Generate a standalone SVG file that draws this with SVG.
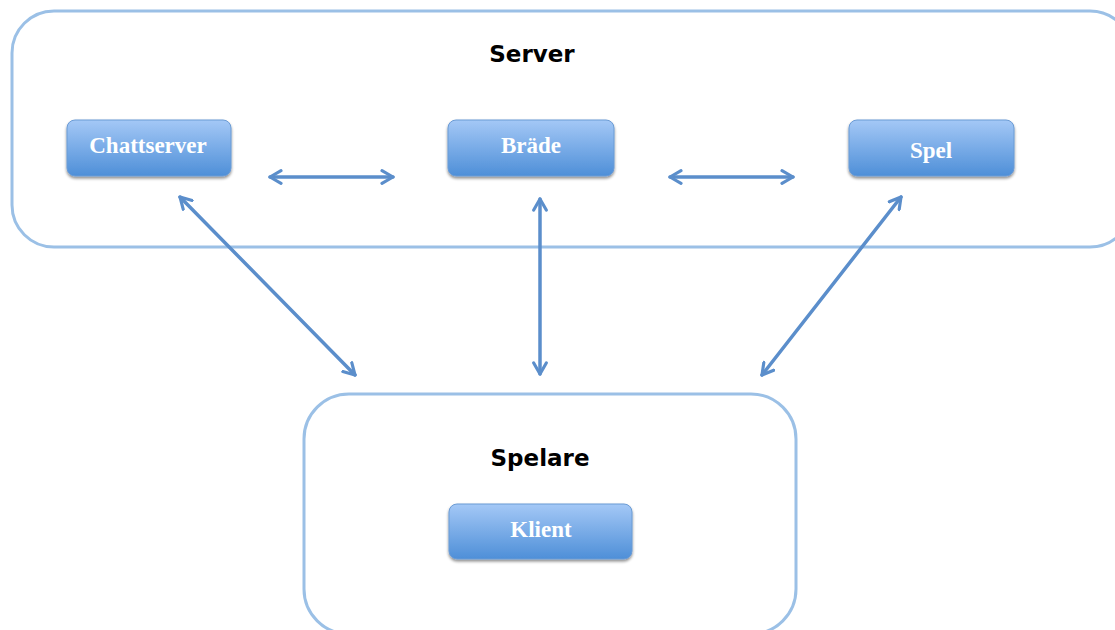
<svg xmlns="http://www.w3.org/2000/svg" width="1115" height="630" viewBox="0 0 1115 630">
<defs>
<linearGradient id="g" x1="0" y1="0" x2="0" y2="1">
<stop offset="0" stop-color="#a4c8f6"/>
<stop offset="1" stop-color="#4e8fd8"/>
</linearGradient>
<filter id="sh" x="-10%" y="-10%" width="120%" height="140%">
<feGaussianBlur in="SourceAlpha" stdDeviation="1.5"/>
<feOffset dy="2" result="b"/>
<feComponentTransfer><feFuncA type="linear" slope="0.45"/></feComponentTransfer>
<feMerge><feMergeNode/><feMergeNode in="SourceGraphic"/></feMerge>
</filter>
<marker id="ah" viewBox="0 0 10 10" refX="8" refY="5" markerWidth="4.5" markerHeight="4.5" orient="auto-start-reverse" markerUnits="strokeWidth">
<path d="M1,1 L8,5 L1,9" fill="none" stroke="#5b8ecb" stroke-width="2" stroke-linecap="round" stroke-linejoin="round"/>
</marker>
</defs>
<style>
.grp{fill:#fff;stroke:#9bc0e6;stroke-width:3}
.node rect{fill:url(#g);stroke:#6b9bd4;stroke-width:1;filter:url(#sh)}
.node text{font-family:"Liberation Serif",serif;font-weight:bold;font-size:23px;fill:#fff;text-anchor:middle}
.title{font-family:"DejaVu Sans",sans-serif;font-weight:bold;font-size:23px;fill:#000;text-anchor:middle}
.con line{stroke:#5b8ecb;stroke-width:3.5;marker-start:url(#ah);marker-end:url(#ah);stroke-linecap:round}
</style>
<rect width="1115" height="630" fill="#fff"/>
<g id="server">
<rect class="grp" x="12" y="11" width="1120" height="236" rx="42"/>
<text class="title" x="532" y="62">Server</text>
</g>
<g id="spelare">
<rect class="grp" x="304" y="394" width="492" height="240" rx="45"/>
<text class="title" x="540" y="466">Spelare</text>
</g>
<g id="chattserver" class="node">
<rect x="67" y="120" width="164" height="56" rx="8"/>
<text x="148" y="153">Chattserver</text>
</g>
<g id="brade" class="node">
<rect x="448" y="120" width="166" height="56" rx="8"/>
<text x="531" y="153">Bräde</text>
</g>
<g id="spel" class="node">
<rect x="849" y="120" width="165" height="56" rx="8"/>
<text x="931" y="158">Spel</text>
</g>
<g id="klient" class="node">
<rect x="449" y="504" width="183" height="55" rx="8"/>
<text x="541" y="537">Klient</text>
</g>
<g id="connectors" class="con">
<line x1="270" y1="177" x2="393" y2="177"/>
<line x1="670" y1="177" x2="793" y2="177"/>
<line x1="180" y1="197" x2="355" y2="375"/>
<line x1="540" y1="199" x2="540" y2="374"/>
<line x1="901" y1="197" x2="762" y2="375"/>
</g>
</svg>
